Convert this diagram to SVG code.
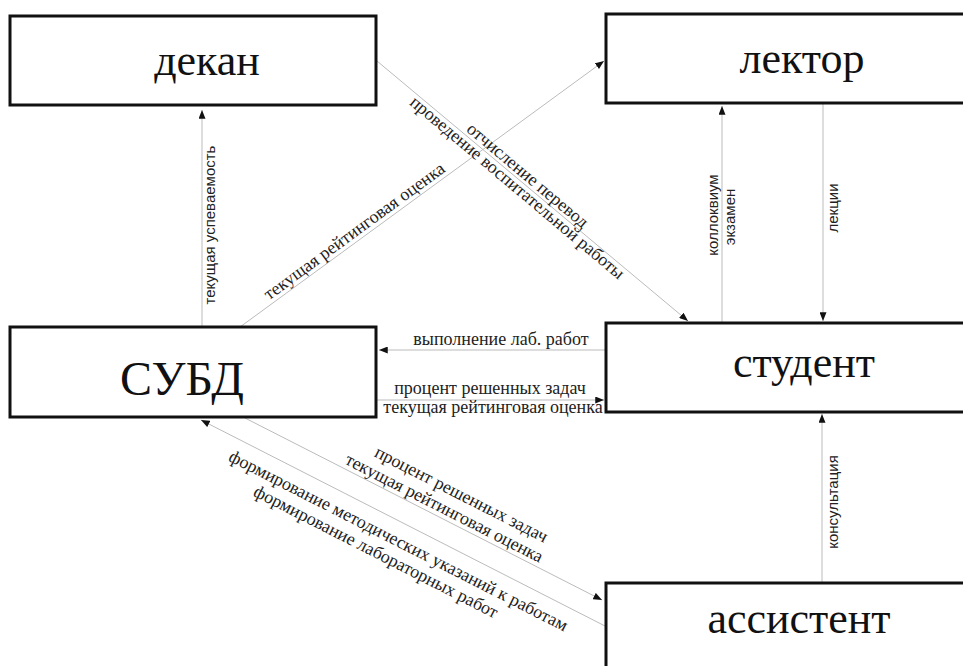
<svg xmlns="http://www.w3.org/2000/svg" width="963" height="666" viewBox="0 0 963 666">
<defs>
<marker id="ah" viewBox="0 0 10 8" refX="10" refY="4" markerWidth="9" markerHeight="7" orient="auto" markerUnits="userSpaceOnUse"><path d="M0,0 L10,4 L0,8 z" fill="#111"/></marker>
<style>
.box{fill:#fff;stroke:#111;stroke-width:3}
.big{font-family:"Liberation Serif","DejaVu Serif",serif;font-size:44px;fill:#111;text-anchor:middle}
.lbl{font-family:"Liberation Serif","DejaVu Serif",serif;font-size:18px;fill:#222;text-anchor:middle}
.vl{font-family:"Liberation Sans","DejaVu Sans",sans-serif;font-size:15px;fill:#222;text-anchor:middle}
.cn{fill:none;stroke:#bbb;stroke-width:1;marker-end:url(#ah)}
</style>
</defs>
<rect width="963" height="666" fill="#fff"/>
<g id="connectors">
<line class="cn" x1="202" y1="327" x2="202" y2="110"/>
<line class="cn" x1="377" y1="61" x2="688" y2="321"/>
<line class="cn" x1="240" y1="327" x2="604" y2="61"/>
<line class="cn" x1="606" y1="350" x2="379" y2="350"/>
<line class="cn" x1="376" y1="400" x2="604" y2="400"/>
<line class="cn" x1="722" y1="323" x2="722" y2="106"/>
<line class="cn" x1="823" y1="103" x2="823" y2="321"/>
<line class="cn" x1="822" y1="583" x2="822" y2="414"/>
<line class="cn" x1="245" y1="418" x2="602" y2="600"/>
<line class="cn" x1="605" y1="626" x2="201" y2="420"/>
<text class="vl" transform="translate(215,225) rotate(-90)">текущая успеваемость</text>
<text class="lbl" transform="translate(360,239) rotate(-36.2)" y="-4">текущая рейтинговая оценка</text>
<g transform="translate(522,182) rotate(40)">
<text class="lbl" y="-3">отчисление перевод</text>
<text class="lbl" y="13">проведение воспитательной работы</text>
</g>
<text class="lbl" x="501" y="345">выполнение лаб. работ</text>
<text class="lbl" x="490" y="394">процент решенных задач</text>
<text class="lbl" x="493" y="413">текущая рейтинговая оценка</text>
<text class="vl" transform="translate(718,215) rotate(-90)">коллоквиум</text>
<text class="vl" transform="translate(735,217) rotate(-90)">экзамен</text>
<text class="vl" transform="translate(838,208) rotate(-90)">лекции</text>
<text class="vl" transform="translate(838,502) rotate(-90)">консультация</text>
<g transform="translate(400,520) rotate(27)">
<text class="lbl" x="43" y="-45">процент решенных задач</text>
<text class="lbl" x="34" y="-25">текущая рейтинговая оценка</text>
<text class="lbl" x="8" y="25">формирование методических указаний к работам</text>
<text class="lbl" x="-7" y="45">формирование лабораторных работ</text>
</g>
</g>
<g id="dekan"><rect class="box" x="10" y="16" width="366" height="89"/><text class="big" x="207" y="75">декан</text></g>
<g id="lektor"><rect class="box" x="606" y="14" width="370" height="89"/><text class="big" x="802" y="73">лектор</text></g>
<g id="subd"><rect class="box" x="10" y="327" width="366" height="90"/><text class="big" x="182" y="395" style="font-size:48px">СУБД</text></g>
<g id="student"><rect class="box" x="606" y="323" width="370" height="89"/><text class="big" x="804" y="377">студент</text></g>
<g id="assistent"><rect class="box" x="606" y="583" width="370" height="100"/><text class="big" x="799" y="633">ассистент</text></g>
</svg>
